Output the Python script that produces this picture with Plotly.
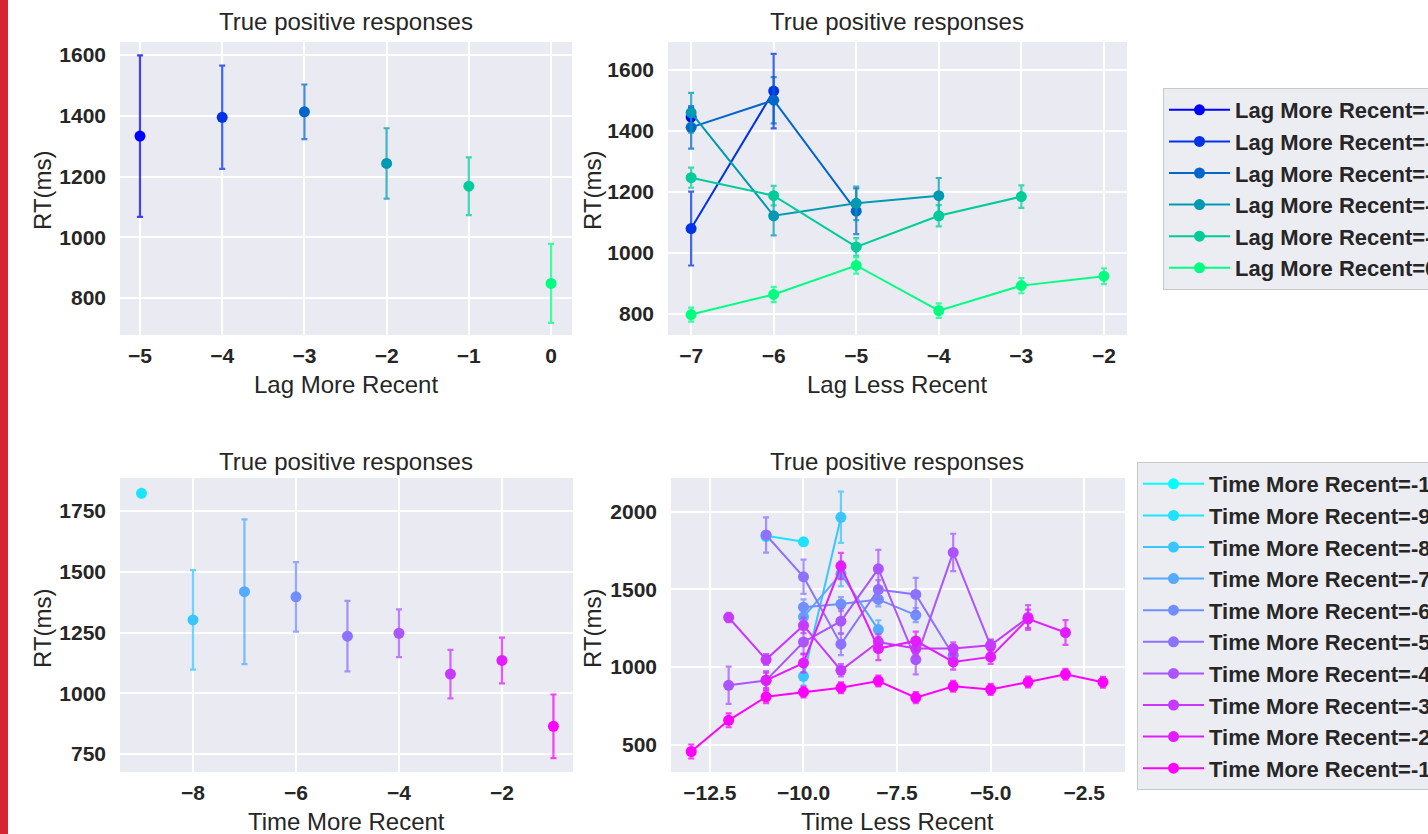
import plotly.graph_objects as go

W, H = 1428, 834

# ---------------- data ----------------
# Top-left: RT vs Lag More Recent
lag_more_recent = [-5, -4, -3, -2, -1, 0]
lag_more_rt = [1333, 1395, 1413, 1243, 1168, 848]
lag_more_err = [266, 170, 90, 116, 95, 130]

# Top-right: RT vs Lag Less Recent, one series per Lag More Recent
lag_series = [-5, -4, -3, -2, -1, 0]
lag_less_x = [
    [-7],
    [-7, -6],
    [-7, -6, -5],
    [-7, -6, -5, -4],
    [-7, -6, -5, -4, -3],
    [-7, -6, -5, -4, -3, -2],
]
lag_less_rt = [
    [1446],
    [1080, 1531],
    [1412, 1501, 1137],
    [1460, 1122, 1163, 1188],
    [1247, 1188, 1020, 1122, 1185],
    [798, 864, 959, 811, 893, 924],
]
lag_less_err = [
    [30],
    [121, 122],
    [70, 76, 75],
    [65, 64, 55, 58],
    [33, 32, 29, 35, 37],
    [23, 25, 27, 24, 25, 26],
]

# Bottom-left: RT vs Time More Recent
time_more_recent = [-9, -8, -7, -6, -5, -4, -3, -2, -1]
time_more_rt = [1823, 1302, 1418, 1397, 1235, 1247, 1079, 1135, 864]
time_more_err = [0, 205, 298, 143, 145, 98, 100, 94, 131]

# Bottom-right: RT vs Time Less Recent, one series per Time More Recent
time_series = [-10, -9, -8, -7, -6, -5, -4, -3, -2, -1]
time_less_x = [
    [-11],
    [-11, -10],
    [-10, -9],
    [-10, -9, -8],
    [-10, -9, -8, -7],
    [-11, -10, -9, -8, -7, -6],
    [-12, -11, -10, -9, -8, -7, -6, -5],
    [-12, -11, -10, -9, -8, -7, -6, -5, -4],
    [-11, -10, -9, -8, -7, -6, -5, -4, -3],
    [-13, -12, -11, -10, -9, -8, -7, -6, -5, -4, -3, -2],
]
time_less_rt = [
    [1840],
    [1845, 1806],
    [940, 1964],
    [1323, 1600, 1241],
    [1385, 1405, 1435, 1334],
    [1850, 1581, 1147, 1499, 1467, 1076],
    [882, 914, 1161, 1295, 1632, 1048, 1738, 1136],
    [1319, 1048, 1268, 979, 1161, 1119, 1119, 1140, 1319],
    [914, 1026, 1650, 1119, 1168, 1033, 1065, 1310, 1222],
    [456, 657, 808, 839, 867, 910, 803, 876, 856, 903, 953, 902],
]
time_less_err = [
    [0],
    [0, 0],
    [60, 165],
    [50, 80, 60],
    [50, 45, 45, 45],
    [113, 110, 70, 60, 107, 60],
    [120, 60, 80, 80, 122, 95, 120, 40],
    [30, 35, 50, 40, 50, 50, 40, 35, 80],
    [50, 60, 85, 75, 60, 50, 45, 60, 80],
    [45, 45, 40, 35, 35, 35, 35, 35, 35, 35, 35, 35],
]


# ---------------- colours ----------------
def winter(t, a=1.0):
    return f"rgba(0,{round(255 * t)},{round(255 * (1 - 0.5 * t))},{a})"


def cool(t, a=1.0):
    return f"rgba({round(255 * t)},{round(255 * (1 - t))},255,{a})"


lag_colors = [winter(i / 5) for i in range(6)]
lag_err_colors = [winter(i / 5, 0.75) for i in range(6)]
time_colors = [cool(i / 9) for i in range(10)]
time_err_colors = [cool(i / 9, 0.75) for i in range(10)]

FONT = "Liberation Sans"
TXT = "#262626"

fig = go.Figure()

# Top-left
for i, (x, y, e) in enumerate(zip(lag_more_recent, lag_more_rt, lag_more_err)):
    fig.add_trace(go.Scatter(
        x=[x], y=[y], mode="markers", xaxis="x", yaxis="y", showlegend=False,
        marker=dict(size=11, color=lag_colors[i]),
        error_y=dict(type="data", array=[e], color=lag_err_colors[i], thickness=2.2, width=3),
    ))

# Top-right
for i, name in enumerate(lag_series):
    fig.add_trace(go.Scatter(
        x=lag_less_x[i], y=lag_less_rt[i], mode="lines+markers", xaxis="x2", yaxis="y2",
        name=f"Lag More Recent={name}", legend="legend", legendgroup=f"l{i}",
        line=dict(color=lag_colors[i], width=2),
        marker=dict(size=11, color=lag_colors[i]),
        error_y=dict(type="data", array=lag_less_err[i], color=lag_err_colors[i], thickness=2.2, width=3),
    ))

# Bottom-left (colour by Time More Recent index)
for x, y, e in zip(time_more_recent, time_more_rt, time_more_err):
    ci = time_series.index(x)
    fig.add_trace(go.Scatter(
        x=[x], y=[y], mode="markers", xaxis="x3", yaxis="y3", showlegend=False,
        marker=dict(size=11, color=time_colors[ci]),
        error_y=dict(type="data", array=[e], color=time_err_colors[ci], thickness=2.2, width=3,
                     visible=e > 0),
    ))

# Bottom-right
for i, name in enumerate(time_series):
    fig.add_trace(go.Scatter(
        x=time_less_x[i], y=time_less_rt[i], mode="lines+markers", xaxis="x4", yaxis="y4",
        name=f"Time More Recent={name}", legend="legend2", legendgroup=f"t{i}",
        line=dict(color=time_colors[i], width=2),
        marker=dict(size=11, color=time_colors[i]),
        error_y=dict(type="data", array=time_less_err[i], color=time_err_colors[i], thickness=2.2, width=3),
    ))


def px(v):
    return v / W


def py(v):
    return 1 - v / H


axis_common = dict(
    showgrid=True, gridcolor="white", gridwidth=1.5, zeroline=False,
    showline=True, linecolor="white", linewidth=1.5, mirror=True,
    tickfont=dict(family=FONT, size=21, color=TXT, weight="bold"),
)
xaxis_common = dict(ticks="outside", ticklen=1, tickcolor="rgba(0,0,0,0)", **axis_common)
yaxis_common = dict(ticks="outside", ticklen=8, tickcolor="rgba(0,0,0,0)", **axis_common)

legend_common = dict(
    xanchor="left", yanchor="top",
    bgcolor="rgba(236,236,243,1)", bordercolor="#c8c8c8", borderwidth=1,
    font=dict(family=FONT, size=22, color=TXT, weight="bold"),
    traceorder="grouped", tracegroupgap=0, itemwidth=61,
)

fig.update_layout(
    width=W, height=H,
    margin=dict(l=0, r=0, t=0, b=0, autoexpand=False),
    paper_bgcolor="white", plot_bgcolor="#eaeaf2",
    xaxis=dict(domain=[px(120), px(572)], range=[-5.243, 0.255], tickvals=lag_more_recent,
               anchor="y", **xaxis_common),
    yaxis=dict(domain=[py(335), py(42)], range=[678, 1643], tickvals=[800, 1000, 1200, 1400, 1600],
               tickformat="d", anchor="x", **yaxis_common),
    xaxis2=dict(domain=[px(668), px(1127)], range=[-7.28, -1.72], tickvals=[-7, -6, -5, -4, -3, -2],
                anchor="y2", **xaxis_common),
    yaxis2=dict(domain=[py(335), py(42)], range=[731, 1692], tickvals=[800, 1000, 1200, 1400, 1600],
                tickformat="d", anchor="x2", **yaxis_common),
    xaxis3=dict(domain=[px(120), px(573)], range=[-9.417, -0.62], tickvals=[-8, -6, -4, -2],
                anchor="y3", **xaxis_common),
    yaxis3=dict(domain=[py(772), py(478)], range=[676, 1886], tickvals=[750, 1000, 1250, 1500, 1750],
                tickformat="d", anchor="x3", **yaxis_common),
    xaxis4=dict(domain=[px(671), px(1125)], range=[-13.54, -1.41], tickvals=[-12.5, -10, -7.5, -5, -2.5],
                tickformat=".1f", anchor="y4", **xaxis_common),
    yaxis4=dict(domain=[py(772), py(478)], range=[324, 2217], tickvals=[500, 1000, 1500, 2000],
                tickformat="d", anchor="x4", **yaxis_common),
    legend=dict(x=px(1163), y=py(88), **legend_common),
    legend2=dict(x=px(1137), y=py(462), **legend_common),
)

# Panel titles and axis titles
annots = []
for cx, ty in [(346, 22), (897, 22), (346, 461), (897, 461)]:
    annots.append(dict(x=px(cx), y=py(ty), xref="paper", yref="paper", text="True positive responses",
                       showarrow=False, xanchor="center", yanchor="middle",
                       font=dict(family=FONT, size=24, color=TXT)))
for cx, ty, t in [(346, 384, "Lag More Recent"), (897, 384, "Lag Less Recent"),
                  (346, 821, "Time More Recent"), (897, 821, "Time Less Recent")]:
    annots.append(dict(x=px(cx), y=py(ty), xref="paper", yref="paper", text=t,
                       showarrow=False, xanchor="center", yanchor="middle",
                       font=dict(family=FONT, size=24, color=TXT)))
for cx, ty in [(42, 190), (592, 190), (42, 628), (592, 628)]:
    annots.append(dict(x=px(cx), y=py(ty), xref="paper", yref="paper", text="RT(ms)",
                       showarrow=False, xanchor="center", yanchor="middle", textangle=-90,
                       font=dict(family=FONT, size=24, color=TXT)))
fig.update_layout(annotations=annots)

# Red slide edge bar
fig.add_shape(type="rect", xref="paper", yref="paper", x0=0, x1=px(8), y0=0, y1=1,
              fillcolor="#d62431", line=dict(width=0), layer="above")

fig.write_html("out.html")
